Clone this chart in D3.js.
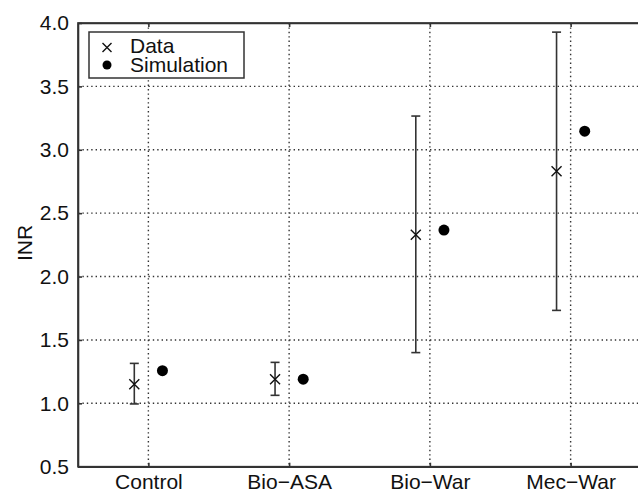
<!DOCTYPE html>
<meta charset="utf-8">
<style>
    body { margin: 0; background: #fff; }
    svg text { font-family: "Liberation Sans", Arial, sans-serif; fill: #111; }
    .grid line { stroke: #333; stroke-width: 1.4; stroke-dasharray: 1.4,3; }
</style>
<svg width="638" height="492"></svg>
<script src="https://cdn.jsdelivr.net/npm/d3@7/dist/d3.min.js"></script>
<script>
    // values
    var groups = ["Control", "Bio\u2212ASA", "Bio\u2212War", "Mec\u2212War"];
    var dataMean = [1.15, 1.19, 2.33, 2.83];
    var dataLow = [0.995, 1.063, 1.40, 1.733];
    var dataHigh = [1.315, 1.323, 3.266, 3.928];
    var simValue = [1.257, 1.19, 2.367, 3.147];
    var yTicks = [0.5, 1.0, 1.5, 2.0, 2.5, 3.0, 3.5, 4.0];

    var svg = d3.select("svg");
    var plotL = 78, plotR = 641, plotT = 23, plotB = 466.7;
    var fs = "21px";

    var x = d3.scaleLinear().domain([0.5, 4.5]).range([plotL, plotR]);
    var y = d3.scaleLinear().domain([0.5, 4.0]).range([plotB, plotT]);
    var off = 0.1;

    // grid
    var grid = svg.append("g").attr("class", "grid");
    grid.selectAll(".gy")
        .data(yTicks.slice(1, -1))
        .enter().append("line")
        .attr("x1", plotL).attr("x2", plotR)
        .attr("y1", function(d) { return y(d); })
        .attr("y2", function(d) { return y(d); });
    grid.selectAll(".gx")
        .data(groups)
        .enter().append("line")
        .attr("x1", function(d, i) { return x(i + 1); })
        .attr("x2", function(d, i) { return x(i + 1); })
        .attr("y1", plotT).attr("y2", plotB);

    // axes (ticks pointing inward like matplotlib)
    var yAxis = d3.axisLeft(y).tickValues(yTicks).tickFormat(d3.format(".1f")).tickSizeInner(-4).tickSizeOuter(0).tickPadding(9);
    var gy = svg.append("g").attr("transform", "translate(" + plotL + ",0)").call(yAxis);
    gy.selectAll("text").style("font-size", fs);

    var xAxis = d3.axisBottom(x).tickValues([1, 2, 3, 4])
        .tickFormat(function(d) { return groups[d - 1]; })
        .tickSizeInner(-4).tickSizeOuter(0).tickPadding(7);
    var gx = svg.append("g").attr("transform", "translate(0," + plotB + ")").call(xAxis);
    gx.selectAll("text").style("font-size", fs);

    var xTop = d3.axisTop(x).tickValues([1, 2, 3, 4]).tickFormat("").tickSizeInner(-4).tickSizeOuter(0);
    svg.append("g").attr("transform", "translate(0," + plotT + ")").call(xTop);

    svg.selectAll(".domain, .tick line").attr("stroke", "#333").attr("stroke-width", 1.6);

    // frame
    svg.append("rect")
        .attr("x", plotL).attr("y", plotT)
        .attr("width", plotR - plotL).attr("height", plotB - plotT)
        .attr("fill", "none").attr("stroke", "#333").attr("stroke-width", 1.7);

    // y label
    svg.append("text")
        .attr("transform", "translate(32,243) rotate(-90)")
        .attr("text-anchor", "middle")
        .style("font-size", fs)
        .text("INR");

    // error bars
    var eb = svg.append("g").attr("stroke", "#333").attr("stroke-width", 1.6);
    groups.forEach(function(g, i) {
        var cx = x(i + 1 - off);
        eb.append("line").attr("x1", cx).attr("x2", cx).attr("y1", y(dataLow[i])).attr("y2", y(dataHigh[i]));
        eb.append("line").attr("x1", cx - 4.5).attr("x2", cx + 4.5).attr("y1", y(dataLow[i])).attr("y2", y(dataLow[i]));
        eb.append("line").attr("x1", cx - 4.5).attr("x2", cx + 4.5).attr("y1", y(dataHigh[i])).attr("y2", y(dataHigh[i]));
    });

    // data crosses
    function cross(sel, cx, cy, s) {
        sel.append("path")
            .attr("d", "M" + (cx - s) + "," + (cy - s) + "L" + (cx + s) + "," + (cy + s) +
                "M" + (cx - s) + "," + (cy + s) + "L" + (cx + s) + "," + (cy - s))
            .attr("stroke", "#111").attr("stroke-width", 1.4).attr("fill", "none");
    }
    var marks = svg.append("g");
    dataMean.forEach(function(v, i) { cross(marks, x(i + 1 - off), y(v), 5); });

    // simulation dots
    svg.append("g").selectAll("circle")
        .data(simValue)
        .enter().append("circle")
        .attr("cx", function(d, i) { return x(i + 1 + off); })
        .attr("cy", function(d) { return y(d); })
        .attr("r", 5.5)
        .attr("fill", "#000");

    // legend
    var lg = svg.append("g");
    lg.append("rect").attr("x", 89).attr("y", 32).attr("width", 155).attr("height", 46)
        .attr("fill", "#fff").attr("stroke", "#333").attr("stroke-width", 1.5);
    cross(lg, 107, 47.5, 4.5);
    lg.append("circle").attr("cx", 107).attr("cy", 65).attr("r", 4.5).attr("fill", "#000");
    lg.append("text").attr("x", 130).attr("y", 52.7).style("font-size", fs).text("Data");
    lg.append("text").attr("x", 130).attr("y", 71.5).style("font-size", fs).text("Simulation");
</script>
